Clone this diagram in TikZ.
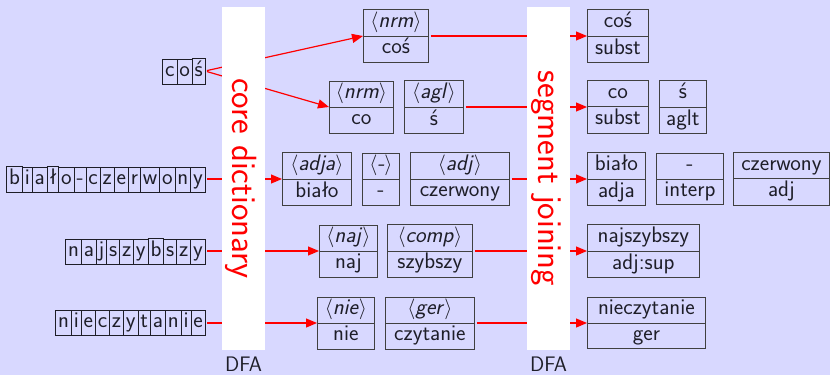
\documentclass[tikz,border=0pt]{standalone}
\usetikzlibrary{arrows.meta,shapes.multipart}
\definecolor{bg}{RGB}{216,216,255}
\definecolor{ink}{RGB}{30,30,40}
\newcommand\mystr{\vrule width0pt height15pt depth6pt}
\newcommand\lstr{\vrule width0pt height14.5pt depth5.5pt}
\newcommand\lbox[1]{\fbox{\lstr#1}\kern-0.8pt}
\newcommand\ang[1]{$\langle$\textit{#1}$\rangle$}
\tikzset{
  x=1pt, y=-1pt,
  boxfont/.style={font=\sffamily\fontsize{22.5}{27}\selectfont, text=ink},
  word/.style={boxfont, inner sep=0pt, anchor=east},
  twobox/.style={boxfont, rectangle split, rectangle split parts=2,
    draw=black!75, line width=0.8pt, inner xsep=2pt, inner ysep=2pt,
    anchor=west, minimum width=#1},
  arr/.style={red, line width=1.2pt, -{Triangle[length=11pt,width=9pt]}, shorten <=2pt},
  bar/.style={fill=white, draw=none},
  bartext/.style={red, rotate=-90, font=\sffamily\fontsize{35}{42}\selectfont},
  dfa/.style={font=\sffamily\fontsize{21}{25}\selectfont, text=ink}
}
\begin{document}
\begin{tikzpicture}
\fboxsep=2pt \fboxrule=0.8pt
\fill[bg] (0,0) rectangle (830,375);
\useasboundingbox (0,0) rectangle (830,375);

% input words
\node[word] (w1) at (205,71) {\lbox{c}\lbox{o}\lbox{ś}};
\node[word] (w2) at (205,179) {\lbox{b}\lbox{i}\lbox{a}\lbox{ł}\lbox{o}\lbox{-}\lbox{c}\lbox{z}\lbox{e}\lbox{r}\lbox{w}\lbox{o}\lbox{n}\lbox{y}};
\node[word] (w3) at (205,251) {\lbox{n}\lbox{a}\lbox{j}\lbox{s}\lbox{z}\lbox{y}\lbox{b}\lbox{s}\lbox{z}\lbox{y}};
\node[word] (w4) at (205,323) {\lbox{n}\lbox{i}\lbox{e}\lbox{c}\lbox{z}\lbox{y}\lbox{t}\lbox{a}\lbox{n}\lbox{i}\lbox{e}};

% middle boxes
\node[twobox=65pt] (n1) at (363,36) {\mystr\ang{nrm}\nodepart{two}\mystr coś};
\node[twobox=64pt] (n2) at (329,107) {\mystr\ang{nrm}\nodepart{two}\mystr co};
\node[twobox=59pt] (n3) at (404,107) {\mystr\ang{agl}\nodepart{two}\mystr ś};
\node[twobox=69pt] (n4) at (282,179) {\mystr\ang{adja}\nodepart{two}\mystr biało};
\node[twobox=37pt] (n5) at (362,179) {\mystr\ang{-}\nodepart{two}\mystr -};
\node[twobox=99pt] (n6) at (410,179) {\mystr\ang{adj}\nodepart{two}\mystr czerwony};
\node[twobox=58pt] (n7) at (319,251) {\mystr\ang{naj}\nodepart{two}\mystr naj};
\node[twobox=85pt] (n8) at (387,251) {\mystr\ang{comp}\nodepart{two}\mystr szybszy};
\node[twobox=57pt] (n9) at (317,323) {\mystr\ang{nie}\nodepart{two}\mystr nie};
\node[twobox=89pt] (n10) at (385,323) {\mystr\ang{ger}\nodepart{two}\mystr czytanie};

% right boxes
\node[twobox=61pt] (r1) at (587,36) {\mystr coś\nodepart{two}\mystr subst};
\node[twobox=61pt] (r2) at (587,107) {\mystr co\nodepart{two}\mystr subst};
\node[twobox=47pt] (r3) at (659,107) {\mystr ś\nodepart{two}\mystr aglt};
\node[twobox=58pt] (r4) at (587,179) {\mystr biało\nodepart{two}\mystr adja};
\node[twobox=67pt] (r5) at (656,179) {\mystr -\nodepart{two}\mystr interp};
\node[twobox=96pt] (r6) at (733,179) {\mystr czerwony\nodepart{two}\mystr adj};
\node[twobox=112pt] (r7) at (587,251) {\mystr najszybszy\nodepart{two}\mystr adj:sup};
\node[twobox=118pt] (r8) at (587,323) {\mystr nieczytanie\nodepart{two}\mystr ger};

% connectors
\draw[arr] (w1.east) -- (n1.west);
\draw[arr] (w1.east) -- (n2.west);
\draw[arr] (w2.east) -- (n4.west);
\draw[arr] (w3.east) -- (n7.west);
\draw[arr] (w4.east) -- (n9.west);
\draw[arr] (n1.east) -- (r1.west);
\draw[arr] (n3.east) -- (r2.west);
\draw[arr] (n6.east) -- (r4.west);
\draw[arr] (n8.east) -- (r7.west);
\draw[arr] (n10.east) -- (r8.west);

% bars
\fill[bar] (222,7) rectangle (265,350);
\fill[bar] (527,7) rectangle (570,350);
\node[bartext] (t1) at (241,178.5) {core dictionary};
\node[bartext] (t2) at (546,178.5) {segment joining};
\node[dfa] (d1) at (243.5,364) {DFA};
\node[dfa] (d2) at (548.5,364) {DFA};
\end{tikzpicture}
\end{document}
